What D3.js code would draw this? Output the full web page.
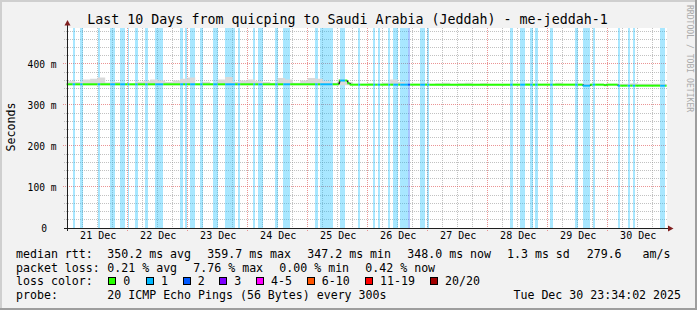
<!DOCTYPE html>
<html>
<head>
<meta charset="utf-8">
<script src="https://cdn.jsdelivr.net/npm/d3@7/dist/d3.min.js"></script>
<style>
  body { margin: 0; background: #f2f2f2; }
  text { font-family: "DejaVu Sans Mono", monospace; fill: #000; }
</style>
</head>
<body>
<script>
// time range of the graph
var startTime = "20 23:34";
var endTime = "30 23:34";

// loss periods (day hh:mm) and lost packets out of 20
var lossFrom = ["21 02:00","21 05:00","21 12:00","21 17:00","21 21:00","22 00:00","22 03:00","22 07:00","22 11:00","22 21:00","22 23:00",
                "23 01:00","23 05:00","23 10:15","23 15:00","23 20:00","24 02:15","24 04:15","24 11:00","24 14:15","25 03:00","25 05:00",
                "25 13:00","25 20:15","26 02:15","26 04:00","26 08:15","26 10:15","26 13:00","26 16:00","26 21:00","26 23:50","28 09:00",
                "28 13:00","28 17:00","28 19:00","29 01:00","29 11:00","29 14:00","29 18:00","30 04:00","30 08:00","30 10:00","30 21:00"];
var lossTo   = ["21 03:00","21 06:00","21 13:00","21 19:00","21 23:00","22 00:40","22 04:00","22 08:00","22 14:15","22 22:10","22 23:45",
                "23 03:00","23 06:00","23 12:00","23 19:00","23 21:00","24 03:00","24 06:00","24 12:00","24 17:00","25 04:00","25 10:00",
                "25 15:00","25 21:00","26 03:00","26 05:00","26 09:00","26 12:15","26 16:00","26 17:00","26 23:00","27 00:40","28 10:00",
                "28 15:00","28 18:00","28 20:00","29 02:00","29 12:00","29 17:00","29 19:00","30 05:00","30 09:00","30 11:00","30 23:00"];
var lossCount = [1,1,1,1,1,1,1,1,1,1,1,
                 1,1,1,1,1,1,1,1,1,1,1,
                 1,1,1,1,1,1,1,2,1,1,1,
                 1,1,1,1,1,1,1,1,1,1,1];

// median rtt (ms), each value holds until the next time
var medianTimes  = ["20 23:34","25 12:30","25 15:50","25 16:50","29 14:00","29 17:00","29 22:30","29 23:30","30 04:00"];
var medianValues = [350.5, 359.7, 353.0, 349.6, 347.3, 349.6, 348.5, 349.6, 347.2];

// smoke top (ms) per 3 hours from 21 Dec 00:00
var smokeTop = [358,356,362,364,367,355,356,353, 352,357,358,362,360,356,360,364,
                367,353,357,353,362,368,356,360, 362,358,356,354,366,362,354,360,
                366,364,358,354,362,356,352,352, 353,352,354,362,356,352,352,353,
                352,353,354,352,353,354,352,353, 352,352,352,352,352,353,352,352,
                352,354,352,352,352,352,352,352, 352,352,352,353,352,352,352,352];

// legend
var lossLabels = ["0","1","2","3","4-5","6-10","11-19","20/20"];
var lossColors = ["#26ff00","#00b8ff","#0059ff","#7e00ff","#ff00ff","#ff5500","#ff0000","#a10000"];
var rttNames = ["avg","max","min","now"];
var rttValues = [350.2, 359.7, 347.2, 348.0];
var rttSd = 1.3, rttAmS = 279.6;
var lossPctValues = [0.21, 7.76, 0.00, 0.42];
var dayLabels = ["21","22","23","24","25","26","27","28","29","30"];

var W = 697, H = 310;
var parse = function(s) { return d3.timeParse("%Y-%m-%d %H:%M")("2025-12-" + s); };

var svg = d3.select("body").append("svg")
    .attr("width", W).attr("height", H);

// background with 3d frame
svg.append("rect").attr("width", W).attr("height", H).attr("fill", "#f2f2f2");
svg.append("path").attr("d", "M0,0H697V2H2V310H0Z").attr("fill", "#cfcfcf");
svg.append("path").attr("d", "M697,0V310H0V308H695V0Z").attr("fill", "#9e9e9e");

var t0 = parse(startTime), t1 = parse(endTime);
var x = d3.scaleTime().domain([t0, t1]).range([66.6, 666.6]);
var y = d3.scaleLinear().domain([0, 487.8]).range([228, 28]);
var px = function(v) { return Math.floor(v) + 0.5; };

// canvas
svg.append("rect").attr("x", 67).attr("y", 28).attr("width", 600).attr("height", 200).attr("fill", "#fff");

// minor grid
var g = svg.append("g");
d3.timeHour.every(6).range(t0, t1).forEach(function(d) {
  if (d.getHours() == 0) return;
  g.append("line").attr("x1", px(x(d))).attr("x2", px(x(d))).attr("y1", 28).attr("y2", 230)
    .attr("stroke", "rgba(143,143,143,0.55)").attr("stroke-dasharray", "1,1");
});
d3.range(20, 488, 20).forEach(function(v) {
  if (v % 100 == 0) return;
  g.append("line").attr("x1", 64).attr("x2", 667).attr("y1", px(y(v))).attr("y2", px(y(v)))
    .attr("stroke", "rgba(143,143,143,0.55)").attr("stroke-dasharray", "1,1");
});
// major grid
d3.timeDay.range(t0, t1).forEach(function(d) {
  g.append("line").attr("x1", px(x(d))).attr("x2", px(x(d))).attr("y1", 28).attr("y2", 232)
    .attr("stroke", "rgba(222,79,79,0.6)").attr("stroke-dasharray", "1,1");
});
[100, 200, 300, 400].forEach(function(v) {
  g.append("line").attr("x1", 63).attr("x2", 667).attr("y1", px(y(v))).attr("y2", px(y(v)))
    .attr("stroke", "rgba(222,79,79,0.6)").attr("stroke-dasharray", "1,1");
});

// loss background
var losses = lossFrom.map(function(f, i) { return {from: parse(f), to: parse(lossTo[i]), n: lossCount[i]}; });
svg.append("g").selectAll("rect").data(losses).enter().append("rect")
    .attr("x", function(d) { return Math.round(x(d.from)); })
    .attr("width", function(d) { return Math.max(1, Math.round(x(d.to)) - Math.round(x(d.from))); })
    .attr("y", 28).attr("height", 200)
    .attr("fill", function(d) { return lossColors[d.n]; })
    .attr("fill-opacity", 0.34);

// smoke
var smoke = smokeTop.map(function(v, i) { return {t: d3.timeHour.offset(parse("21 00:00"), i * 3), v: v}; });
smoke.unshift({t: t0, v: smokeTop[0]});
smoke = smoke.filter(function(d) { return d.t <= t1; });
smoke.push({t: t1, v: smoke[smoke.length - 1].v});
var smokeArea = d3.area()
    .x(function(d) { return x(d.t); })
    .y0(y(348))
    .y1(function(d) { return y(d.v); })
    .curve(d3.curveStepAfter);
svg.append("path").datum(smoke).attr("d", smokeArea).attr("fill", "#d9d9d9");

// median line coloured by loss
var medians = medianTimes.map(function(s, i) { return {t: parse(s), v: medianValues[i]}; });
var cuts = [t0, t1];
medians.forEach(function(d) { cuts.push(d.t); });
losses.forEach(function(d) { cuts.push(d.from, d.to); });
cuts = cuts.filter(function(d) { return d >= t0 && d <= t1; }).sort(function(a, b) { return a - b; });
var medianAt = function(t) { var v = medians[0].v; medians.forEach(function(d) { if (d.t <= t) v = d.v; }); return v; };
var lossAt = function(t) { var n = 0; losses.forEach(function(d) { if (d.from <= t && t < d.to) n = d.n; }); return n; };
var segs = [];
for (var i = 0; i < cuts.length - 1; i++) {
  if (+cuts[i] == +cuts[i + 1]) continue;
  var mid = new Date((+cuts[i] + +cuts[i + 1]) / 2);
  segs.push({a: cuts[i], b: cuts[i + 1], v: medianAt(mid), n: lossAt(mid)});
}
var valueline = d3.line().x(function(d) { return d[0]; }).y(function(d) { return d[1]; });
segs.forEach(function(s, i) {
  if (i > 0 && segs[i - 1].v != s.v) {
    svg.append("path").attr("d", valueline([[x(s.a), y(segs[i - 1].v)], [x(s.a) + 1, y(s.v)]]))
      .attr("stroke", "#222").attr("stroke-width", 1.5).attr("fill", "none");
  }
  svg.append("path").attr("d", valueline([[x(s.a), y(s.v)], [x(s.b), y(s.v)]]))
    .attr("stroke", lossColors[s.n]).attr("stroke-width", 2).attr("fill", "none");
});

// axes
svg.append("line").attr("x1", 64).attr("x2", 669).attr("y1", 228.5).attr("y2", 228.5).attr("stroke", "#1f1f1f");
svg.append("line").attr("x1", 67.5).attr("x2", 67.5).attr("y1", 231).attr("y2", 25).attr("stroke", "#1f1f1f");
svg.append("path").attr("d", "M64.5,25.5L67.5,20L70.5,25.5Z").attr("fill", "#801f1f");
svg.append("path").attr("d", "M668,225.5L673.5,228.5L668,231.5Z").attr("fill", "#801f1f");

var noon = dayLabels.map(function(d) { return parse(d + " 12:00"); });
var xAxis = svg.append("g").attr("transform", "translate(0,230)")
    .call(d3.axisBottom(x).tickValues(noon).tickSize(0).tickPadding(2)
      .tickFormat(function(d, i) { return dayLabels[i] + " Dec"; }));
xAxis.select(".domain").remove();
xAxis.selectAll("text").style("font-size", "10px").style("font-family", "DejaVu Sans Mono");

var yAxis = svg.append("g").attr("transform", "translate(56.5,0)")
    .call(d3.axisLeft(y).tickValues([0, 100, 200, 300, 400]).tickSize(0).tickPadding(0)
      .tickFormat(function(d) { return d == 0 ? "0" : d + " m"; }));
yAxis.select(".domain").remove();
yAxis.selectAll("text").style("font-size", "9.6px").style("font-family", "DejaVu Sans Mono")
    .filter(function(d) { return d == 0; }).attr("x", -9.5);

// titles
svg.append("text").attr("x", 347.5).attr("y", 23.5).attr("text-anchor", "middle")
    .style("font-size", "13.3px").text("Last 10 Days from quicping to Saudi Arabia (Jeddah) - me-jeddah-1");
svg.append("text").attr("transform", "translate(15,127) rotate(-90)").attr("text-anchor", "middle")
    .style("font-size", "11.6px").text("Seconds");
svg.append("text").attr("transform", "translate(687,5) rotate(90)")
    .style("font-size", "8.1px").style("fill", "#aaa").text("RRDTOOL / TOBI OETIKER");

// legend
var lg = svg.append("g").style("font-size", "11.6px");
function put(tx, ty, s) { lg.append("text").attr("x", tx).attr("y", ty).attr("xml:space", "preserve").text(s); }
var row1 = [107.3, 207.3, 307.3, 407.3];
put(16, 258, "median rtt:");
rttValues.forEach(function(v, i) { put(row1[i], 258, v.toFixed(1) + " ms " + rttNames[i]); });
put(507, 258, rttSd.toFixed(1) + " ms sd");
put(586.7, 258, rttAmS.toFixed(1) + "   am/s");
var row2 = [107.3, 193.3, 279.3, 365.3];
put(16, 271.5, "packet loss:");
lossPctValues.forEach(function(v, i) { put(row2[i], 271.5, v.toFixed(2) + " % " + rttNames[i]); });
put(16, 285, "loss color:");
var boxX = [108.3, 146, 182.7, 219.3, 256, 306.7, 365, 430];
lossLabels.forEach(function(l, i) {
  lg.append("rect").attr("x", Math.round(boxX[i]) + 0.5).attr("y", 277.5).attr("width", 7).attr("height", 7)
    .attr("fill", lossColors[i]).attr("stroke", "#000");
  put(boxX[i] + 15, 285, l);
});
put(16, 298.5, "probe:");
put(107.3, 298.5, "20 ICMP Echo Pings (56 Bytes) every 300s");
lg.append("text").attr("x", 681).attr("y", 298.5).attr("text-anchor", "end").text("Tue Dec 30 23:34:02 2025");
</script>
</body>
</html>
